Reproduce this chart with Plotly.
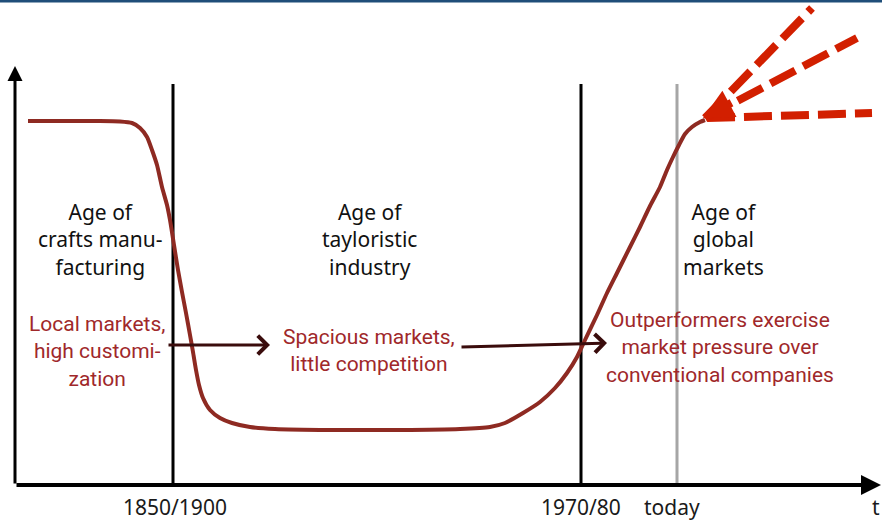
import plotly.graph_objects as go

# Conceptual curve: time (t) vs. market level
curve_t = [13, 45, 85, 105, 117, 125, 132, 137, 142, 147, 152, 155, 159, 163, 167, 171, 175, 178, 181, 184,
           188, 195, 205, 217, 235, 260, 315, 385, 445, 475, 490, 508, 525, 540, 552, 562, 570, 582, 592, 602,
           615, 625, 635, 645, 652, 658, 664, 670, 677, 685, 690]
curve_level = [364, 364, 364, 363.5, 362, 357, 348, 335, 320, 298, 280, 265, 240, 215, 193, 172, 150, 133, 115, 100,
               87, 75, 67, 62, 58, 56, 55, 55, 56, 58, 62, 72, 83, 97, 112, 128, 145, 170, 192, 212,
               238, 258, 279, 298, 315, 328, 340, 351, 358, 363, 365]

# Future scenarios (start, end)
scen_t = [[692, 857], [690, 842], [690, 797]]
scen_level = [[367, 372], [367, 447], [367, 477]]

# Era boundaries
boundary_t = [158, 566]
today_t = 662
boundary_top = 401

tick_labels = ["1850/1900", "1970/80", "today"]
tick_t = [160, 566, 657]

era_labels = ["Age of<br>crafts manu-<br>facturing", "Age of<br>tayloristic<br>industry", "Age of<br>global<br>markets"]
era_t = [85, 354, 708]
market_labels = ["Local markets,<br>high customi-<br>zation", "Spacious markets,<br>little competition",
                 "Outperformers exercise<br>market pressure over<br>conventional companies"]
market_t = [82, 354, 705]
market_level = [134, 135, 138]

RED_TXT = "#a0282a"
CURVE = "#8e2a22"
DASH_RED = "#d21f00"

fig = go.Figure()

# era boundary lines
for bt in boundary_t:
    fig.add_trace(go.Scatter(x=[bt, bt], y=[0, boundary_top], mode="lines",
                             line=dict(color="#000000", width=3), hoverinfo="skip", showlegend=False))
fig.add_trace(go.Scatter(x=[today_t, today_t], y=[0, boundary_top], mode="lines",
                         line=dict(color="#a6a6a6", width=3), hoverinfo="skip", showlegend=False))

# main curve
fig.add_trace(go.Scatter(x=curve_t, y=curve_level, mode="lines",
                         line=dict(color=CURVE, width=4, shape="spline", smoothing=0.6),
                         hoverinfo="skip", showlegend=False))

# scenario dashed lines
for st, sl in zip(scen_t, scen_level):
    fig.add_trace(go.Scatter(x=st, y=sl, mode="lines",
                             line=dict(color=DASH_RED, width=8, dash="28px,9px"),
                             hoverinfo="skip", showlegend=False))

ann = []
# axes arrows
ann.append(dict(x=0, y=419, ax=0, ay=0, xref="x", yref="y", axref="x", ayref="y", text="",
                showarrow=True, arrowhead=2, arrowsize=1.0, arrowwidth=3, arrowcolor="#000000", standoff=0))
ann.append(dict(x=866, y=0, ax=0, ay=0, xref="x", yref="y", axref="x", ayref="y", text="",
                showarrow=True, arrowhead=2, arrowsize=1.0, arrowwidth=4, arrowcolor="#000000", standoff=0))
# red arrowhead at junction
ann.append(dict(x=688, y=367, ax=718, ay=383, xref="x", yref="y", axref="x", ayref="y", text="",
                showarrow=True, arrowhead=2, arrowsize=0.75, arrowwidth=8, arrowcolor=DASH_RED, standoff=0))
# transition arrows
ann.append(dict(x=255, y=140, ax=152, ay=140, xref="x", yref="y", axref="x", ayref="y", text="",
                showarrow=True, arrowhead=4, arrowsize=1.2, arrowwidth=3, arrowcolor="#3a0c0c", standoff=0))
ann.append(dict(x=592, y=142, ax=445, ay=138, xref="x", yref="y", axref="x", ayref="y", text="",
                showarrow=True, arrowhead=4, arrowsize=1.2, arrowwidth=3, arrowcolor="#3a0c0c", standoff=0))

for lab, t in zip(era_labels, era_t):
    ann.append(dict(x=t, y=246, xref="x", yref="y", text=lab, showarrow=False, align="center",
                    font=dict(family="Noto Sans", size=21, color="#111111")))
for lab, t, l in zip(market_labels, market_t, market_level):
    ann.append(dict(x=t, y=l, xref="x", yref="y", text=lab, showarrow=False, align="center",
                    font=dict(family="Roboto", size=21, color=RED_TXT)))
for lab, t in zip(tick_labels, tick_t):
    ann.append(dict(x=t, y=-22, xref="x", yref="y", text=lab, showarrow=False,
                    font=dict(family="Noto Sans", size=21, color="#1a1a1a")))
ann.append(dict(x=867, y=-22, xref="x", yref="y", text="t", showarrow=False, xanchor="right",
                font=dict(family="Noto Sans", size=21, color="#1a1a1a")))

fig.update_layout(
    width=882, height=521,
    margin=dict(l=0, r=0, t=0, b=0),
    paper_bgcolor="white", plot_bgcolor="white",
    xaxis=dict(range=[-15, 867], visible=False, fixedrange=True),
    yaxis=dict(range=[-36, 485], visible=False, fixedrange=True),
    annotations=ann,
    shapes=[dict(type="line", xref="paper", yref="paper", x0=0, x1=1, y0=0.998, y1=0.998,
                 line=dict(color="#1f4e79", width=3))],
)

fig.write_html("out.html", config={"displayModeBar": False},
               post_script="document.body.style.margin='0px';document.body.style.overflow='hidden';")
